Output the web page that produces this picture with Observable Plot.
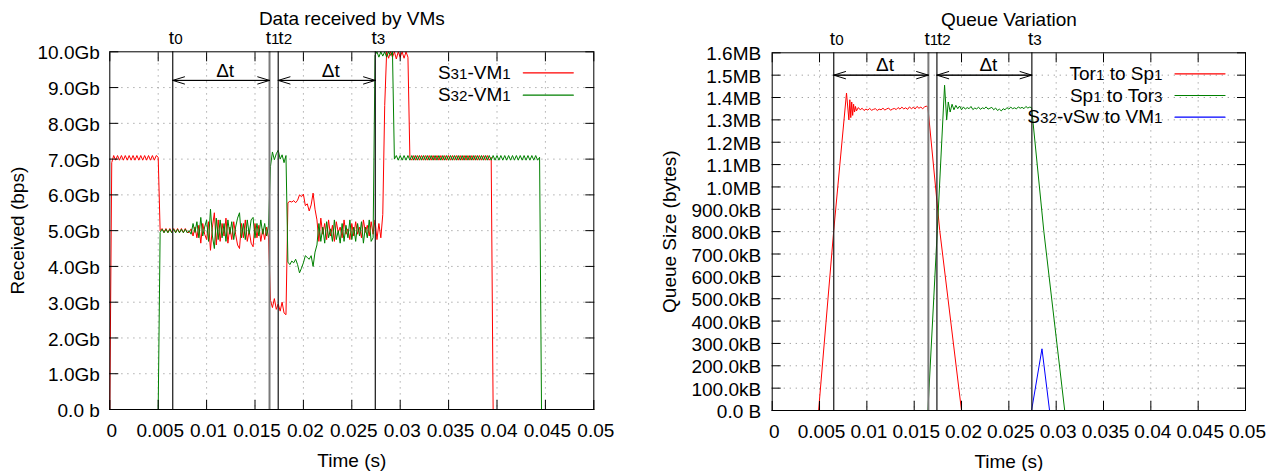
<!DOCTYPE html>
<html><head><meta charset="utf-8">
<script src="https://cdn.jsdelivr.net/npm/d3@7"></script>
<script src="https://cdn.jsdelivr.net/npm/@observablehq/plot@0.6"></script>
<style>
html,body{margin:0;padding:0;background:#fff;}
#row{display:flex;width:1275px;height:471px;overflow:hidden;}
#row > *{flex:0 0 auto;max-width:none !important;}
</style></head><body><div id="row"></div>
<script>
// ---------- shared axis data ----------
const xTicks = [0, 0.005, 0.01, 0.015, 0.02, 0.025, 0.03, 0.035, 0.04, 0.045, 0.05];
const xTickLabels = ["0", "0.005", "0.01", "0.015", "0.02", "0.025", "0.03", "0.035", "0.04", "0.045", "0.05"];
const markerTimes = [0.0065, 0.0165, 0.0174, 0.02743];
const markerLabels = ["t0", "t1", "t2", "t3"];
const intervals = [[0, 1], [2, 3]];   // Δt spans between markers

// ---------- left chart: Data received by VMs (Gb/s, sampled every dt seconds) ----------
const dt = 0.0002;
const rxTicks = [0, 1, 2, 3, 4, 5, 6, 7, 8, 9, 10];
const rxTickLabels = ["0.0 b", "1.0Gb", "2.0Gb", "3.0Gb", "4.0Gb", "5.0Gb", "6.0Gb", "7.0Gb", "8.0Gb", "9.0Gb", "10.0Gb"];
const rxNames = ["S31-VM1", "S32-VM1"];
const rxArrowLevel = 9.2;
const s31 = [
  0, 6.9,
  7.1, 6.97, 7.1, 6.97, 7.1, 6.97, 7.1, 6.97, 7.1, 6.97, 7.1, 6.97,
  7.1, 6.97, 7.1, 6.97, 7.1, 6.97, 7.1, 6.97, 7.1, 6.97, 7.1, 7.05,
  5.0, 5.06, 4.95, 5.06, 4.95, 5.06, 4.95, 5.06, 4.95, 5.06, 4.95, 5.06, 4.95, 5.06, 4.95,
  4.95, 5.05, 4.85, 5.1, 4.8, 5.15, 4.65, 5.2, 4.9, 4.75,
  5.25, 4.45, 5.1, 5.5, 4.6, 5.3, 4.7, 5.2, 4.85, 5.35,
  4.65, 5.1, 4.75, 5.25, 4.9, 4.6, 4.5, 5.2, 4.8, 5.3,
  4.7, 5.0, 4.65, 4.55, 5.2, 4.8, 5.15, 4.7, 5.05, 4.75,
  5.1, 4.8,
  3.05, 2.85, 3.1, 2.8, 2.95, 2.75, 3.0, 2.7, 2.65,
  5.78, 5.82, 5.8, 5.84, 5.78, 5.85, 6.0, 5.95, 6.02, 5.7, 5.75, 5.55, 5.72, 6.05, 5.6,
  5.3, 4.7, 5.35, 4.9, 5.2, 4.75, 5.3, 4.85, 5.15, 4.7,
  5.25, 4.95, 5.1, 4.8, 5.3, 4.9, 5.05, 4.75, 5.2, 4.85,
  5.25, 4.9, 5.1, 4.8, 5.3, 4.95, 5.15, 4.85, 5.25, 4.9,
  5.3, 4.75, 5.2, 4.8, 5.45, 8.5,
  10.0, 9.82, 10.0, 9.85, 10.0, 9.8, 10.0, 9.85, 10.0, 9.82, 10.0, 9.85,
  7.05, 6.97, 7.1, 6.97, 7.1, 6.97, 7.1, 6.97, 7.1, 6.97,
  7.1, 6.97, 7.1, 6.97, 7.1, 6.97, 7.1, 6.97, 7.1, 6.97,
  7.1, 6.97, 7.1, 6.97, 7.1, 6.97, 7.1, 6.97, 7.1, 6.97,
  7.1, 6.97, 7.1, 6.97, 7.1, 6.97, 7.1, 6.97, 7.1, 6.97,
  7.1, 6.97, 7.05,
  0, 0, 0, 0, 0, 0, 0, 0, 0, 0,
  0, 0, 0, 0, 0, 0, 0, 0, 0, 0,
  0, 0, 0, 0, 0, 0, 0, 0, 0, 0,
  0, 0, 0, 0, 0, 0, 0, 0, 0, 0,
  0, 0, 0, 0, 0, 0, 0, 0, 0, 0,
  0, 0, 0
];
const s32 = [
  0, 0, 0, 0, 0, 0, 0, 0, 0, 0,
  0, 0, 0, 0, 0, 0, 0, 0, 0, 0,
  0, 0, 0, 0, 0, 0,
  4.95, 5.04, 4.94, 5.04, 4.94, 5.04, 4.94, 5.04, 4.94, 5.04, 4.94, 5.04, 4.94, 5.04, 4.94,
  5.0, 4.9, 5.2, 4.95, 5.25, 4.8, 5.37, 4.85, 5.1, 5.3,
  4.7, 5.6, 4.85, 4.5, 5.35, 4.75, 5.3, 4.8, 5.2, 4.7,
  5.3, 4.9, 5.25, 4.75, 5.1, 5.35, 5.5, 4.8, 5.2, 4.75,
  5.3, 4.9, 5.3, 5.37, 4.8, 5.2, 4.85, 5.3, 4.9, 5.2,
  4.85, 5.15,
  6.8, 7.2, 6.98, 7.15, 7.25, 7.0, 7.12, 6.9, 7.1,
  4.12, 4.05, 4.15, 4.1, 4.2, 4.05, 3.82, 3.95, 4.1, 4.3, 4.25, 4.2, 4.3, 4.0, 4.4,
  4.6, 5.2, 4.7, 5.1, 4.65, 5.25, 4.8, 5.05, 4.7, 5.3,
  4.75, 5.0, 4.65, 5.2, 4.7, 5.15, 4.8, 5.3, 4.75, 5.1,
  4.7, 5.2, 4.85, 5.25, 4.65, 5.1, 4.8, 5.3, 4.7, 4.8,
  9.9, 10.0, 9.85, 10.0, 9.88, 10.0, 9.85, 10.0, 9.9, 10.0,
  7.0, 7.1, 6.97, 7.1, 6.97, 7.1, 6.97, 7.1, 6.97, 7.1,
  6.97, 7.1, 6.97, 7.1, 6.97, 7.1, 6.97, 7.1, 6.97, 7.1,
  6.97, 7.1, 6.97, 7.1, 6.97, 7.1, 6.97, 7.1, 6.97, 7.1,
  6.97, 7.1, 6.97, 7.1, 6.97, 7.1, 6.97, 7.1, 6.97, 7.1,
  6.97, 7.1, 6.97, 7.1, 6.97, 7.1, 6.97, 7.1, 6.97, 7.1,
  6.97, 7.1, 6.97, 7.1, 6.97, 7.1, 6.97, 7.1, 6.97, 7.1,
  6.97, 7.1, 6.97, 7.1, 6.97, 7.1, 6.97, 7.1, 6.97, 7.1,
  6.97, 7.1, 6.97, 7.1, 6.97, 7.05,
  0, 0, 0, 0, 0, 0, 0, 0, 0, 0,
  0, 0, 0, 0, 0, 0, 0, 0, 0, 0,
  0, 0, 0, 0, 0, 0, 0, 0
];

// ---------- right chart: Queue Variation ([time s, size MB]) ----------
const qTicks = [0, 0.1, 0.2, 0.3, 0.4, 0.5, 0.6, 0.7, 0.8, 0.9, 1.0, 1.1, 1.2, 1.3, 1.4, 1.5, 1.6];
const qTickLabels = ["0.0 B", "100.0kB", "200.0kB", "300.0kB", "400.0kB", "500.0kB", "600.0kB", "700.0kB", "800.0kB", "900.0kB",
  "1.0MB", "1.1MB", "1.2MB", "1.3MB", "1.4MB", "1.5MB", "1.6MB"];
const qNames = ["Tor1 to Sp1", "Sp1 to Tor3", "S32-vSw to VM1"];
const qArrowLevel = 1.5;
const torSp = [
  [0, 0], [0.0049, 0], [0.0065, 0.805], [0.00785, 1.42], [0.0081, 1.30], [0.0082, 1.39], [0.0083, 1.31],
  [0.0084, 1.38], [0.0085, 1.32], [0.0086, 1.37], [0.0087, 1.335], [0.0088, 1.36], [0.0089, 1.34], [0.0091, 1.355],
  [0.0093, 1.345], [0.0095, 1.352], [0.0097, 1.342], [0.0099, 1.348], [0.0101, 1.344], [0.0103, 1.351],
  [0.0105, 1.343], [0.0107, 1.347], [0.0109, 1.35], [0.0111, 1.342], [0.0113, 1.348], [0.0115, 1.345],
  [0.0117, 1.352], [0.0119, 1.344], [0.0121, 1.349], [0.0123, 1.353], [0.0125, 1.343], [0.0127, 1.348],
  [0.0129, 1.351], [0.0131, 1.346], [0.0133, 1.355], [0.0135, 1.348], [0.0137, 1.357], [0.0139, 1.349],
  [0.0141, 1.354], [0.0143, 1.347], [0.0145, 1.358], [0.0147, 1.35], [0.0149, 1.356], [0.0151, 1.349],
  [0.0153, 1.36], [0.0155, 1.352], [0.0157, 1.357], [0.0159, 1.35], [0.0161, 1.358], [0.0163, 1.362],
  [0.01645, 1.355], [0.0177, 0.805], [0.0200, 0], [0.05, 0]
];
const spTor = [
  [0, 0], [0.01645, 0], [0.01744, 0.805], [0.01821, 1.455], [0.01843, 1.30], [0.0186, 1.38], [0.0188, 1.335],
  [0.0190, 1.37], [0.0192, 1.345], [0.0194, 1.365],
  [0.0196, 1.35], [0.0198, 1.362], [0.0200, 1.345], [0.0202, 1.358], [0.0204, 1.348], [0.0206, 1.355],
  [0.0208, 1.35], [0.0210, 1.36], [0.0212, 1.346], [0.0214, 1.353], [0.0216, 1.349], [0.0218, 1.357],
  [0.0220, 1.347], [0.0222, 1.354], [0.0224, 1.35], [0.0226, 1.358], [0.0228, 1.348], [0.0230, 1.352],
  [0.0232, 1.356], [0.0234, 1.345], [0.0236, 1.353], [0.0238, 1.342], [0.0240, 1.348], [0.0242, 1.34],
  [0.0244, 1.35], [0.0246, 1.345], [0.0248, 1.355], [0.0250, 1.348], [0.0252, 1.357], [0.0254, 1.35],
  [0.0256, 1.354], [0.0258, 1.349], [0.0260, 1.358], [0.0262, 1.352], [0.0264, 1.356], [0.0266, 1.35],
  [0.0268, 1.36], [0.0270, 1.353], [0.0272, 1.357],
  [0.0274, 1.355], [0.0287, 0.8], [0.0309, 0], [0.05, 0]
];
const vswVm = [[0, 0], [0.0274, 0], [0.0285, 0.276], [0.0293, 0], [0.05, 0]];

// ---------- drawing ----------
const FONT = "'Liberation Sans', Arial, Helvetica, sans-serif";
const gridStyle = {stroke: "#9a9a9a", strokeOpacity: 1, strokeWidth: 1, strokeDasharray: "1.2,4.8"};
const lineShape = {draw(ctx, l) { ctx.moveTo(0, 0); ctx.lineTo(l, 0); }};
const fmt = (ticks, labels) => d => labels[ticks.indexOf(d)];

function chart(cfg) {
  const {width, mt, mr, mb, ml, yTicks, yLabels, yPad, title, yTitle, yTitleDx, series, names, colors, arrowLevel, legendStep} = cfg;
  const mid = {lineAnchor: "middle"};
  const marks = [
    Plot.gridX(xTicks.slice(1, -1), gridStyle),
    Plot.gridY(yTicks.slice(1, -1), gridStyle),
    ...series.map(s => Plot.line(s.data, {x: s.x, y: s.y, stroke: s.color, strokeWidth: 1})),
    Plot.ruleX(markerTimes, {filter: (d, i) => i !== 1, stroke: "#262626", strokeWidth: 1.3}),
    Plot.ruleX(markerTimes, {filter: (d, i) => i === 1, stroke: "#7a7a7a", strokeWidth: 2}),
    Plot.arrow([[0, 1], [1, 0], [2, 3], [3, 2]], {
      x1: d => markerTimes[d[0]], x2: d => markerTimes[d[1]], y1: arrowLevel, y2: arrowLevel,
      headLength: 18.5, headAngle: 34, stroke: "black", strokeWidth: 1
    }),
    Plot.text(intervals, {x: d => (markerTimes[d[0]] + markerTimes[d[1]]) / 2, y: arrowLevel, text: () => "Δt", dy: -10, dx: 4, ...mid}),
    Plot.text(markerTimes, {filter: (d, i) => i !== 2, x: d => d, text: (d, i) => markerLabels[i], frameAnchor: "top", dy: -14, dx: 3, ...mid}),
    Plot.text(markerTimes, {filter: (d, i) => i === 2, x: d => d, text: (d, i) => markerLabels[i], frameAnchor: "top", dy: -14, dx: 7, ...mid}),
    Plot.text([title], {text: d => d, frameAnchor: "top", dy: -33, ...mid}),
    Plot.text(["Time (s)"], {text: d => d, frameAnchor: "bottom", dy: 51, ...mid}),
    Plot.text([yTitle], {text: d => d, frameAnchor: "left", dx: yTitleDx, rotate: -90, textAnchor: "middle", ...mid}),
    ...names.flatMap((n, i) => [
      Plot.text([n], {text: d => d, frameAnchor: "top-right", dx: -83, dy: 21 + i * legendStep, textAnchor: "end", ...mid}),
      Plot.vector([n], {frameAnchor: "top-right", dx: -70.5, dy: 21 + i * legendStep, length: 50, anchor: "start", shape: lineShape, stroke: colors[i], strokeWidth: 1.2})
    ]),
    Plot.axisX(xTicks, {anchor: "bottom", tickSize: 0, tickPadding: 14, dx: 2, tickFormat: fmt(xTicks, xTickLabels), label: null}),
    Plot.axisX(xTicks, {anchor: "bottom", tickSize: -9, fill: "none", label: null}),
    Plot.axisX(xTicks, {anchor: "top", tickSize: -9, fill: "none", label: null}),
    Plot.axisY(yTicks, {anchor: "left", tickSize: 0, tickPadding: yPad, dy: 1.5, tickFormat: fmt(yTicks, yLabels), label: null}),
    Plot.axisY(yTicks, {anchor: "left", tickSize: -9, fill: "none", label: null}),
    Plot.axisY(yTicks, {anchor: "right", tickSize: -9, fill: "none", label: null}),
    Plot.frame({stroke: "black", strokeWidth: 1})
  ];
  const svg = Plot.plot({
    width, height: 471,
    marginTop: mt, marginRight: mr, marginBottom: mb, marginLeft: ml,
    x: {domain: [0, 0.05]},
    y: {domain: [yTicks[0], yTicks[yTicks.length - 1]]},
    style: {fontFamily: FONT, fontSize: "19px", color: "black", background: "white", overflow: "visible"},
    marks
  });
  // subscripts for series and marker labels
  const subs = new Set([...markerLabels, ...names]);
  svg.querySelectorAll("text").forEach(t => {
    if (t.children.length || !subs.has(t.textContent)) return;
    const s = t.textContent;
    t.textContent = "";
    s.split(/(\d+)/).forEach((part, k) => {
      if (!part) return;
      const ts = document.createElementNS("http://www.w3.org/2000/svg", "tspan");
      ts.textContent = part;
      if (k % 2 === 1) ts.setAttribute("font-size", "0.8em");
      t.appendChild(ts);
    });
  });
  return svg;
}

const row = document.getElementById("row");
row.appendChild(chart({
  width: 640, mt: 51.3, mr: 46.7, mb: 62, ml: 109.3,
  yTicks: rxTicks, yLabels: rxTickLabels, yPad: 10,
  title: "Data received by VMs", yTitle: "Received (bps)", yTitleDx: -91.5,
  series: [
    {data: s31, x: (d, i) => i * dt, y: d => d, color: "#ff0000"},
    {data: s32, x: (d, i) => i * dt, y: d => d, color: "#008000"}
  ],
  names: rxNames, colors: ["#ff0000", "#008000"], arrowLevel: rxArrowLevel, legendStep: 22.4
}));
row.appendChild(chart({
  width: 635, mt: 52.3, mr: 30, mb: 61, ml: 131.7,
  yTicks: qTicks, yLabels: qTickLabels, yPad: 11,
  title: "Queue Variation", yTitle: "Queue Size (bytes)", yTitleDx: -102.7,
  series: [
    {data: torSp, x: d => d[0], y: d => d[1], color: "#ff0000"},
    {data: spTor, x: d => d[0], y: d => d[1], color: "#008000"},
    {data: vswVm, x: d => d[0], y: d => d[1], color: "#0000ff"}
  ],
  names: qNames, colors: ["#ff0000", "#008000", "#0000ff"], arrowLevel: qArrowLevel, legendStep: 21.7
}));
</script></body></html>
